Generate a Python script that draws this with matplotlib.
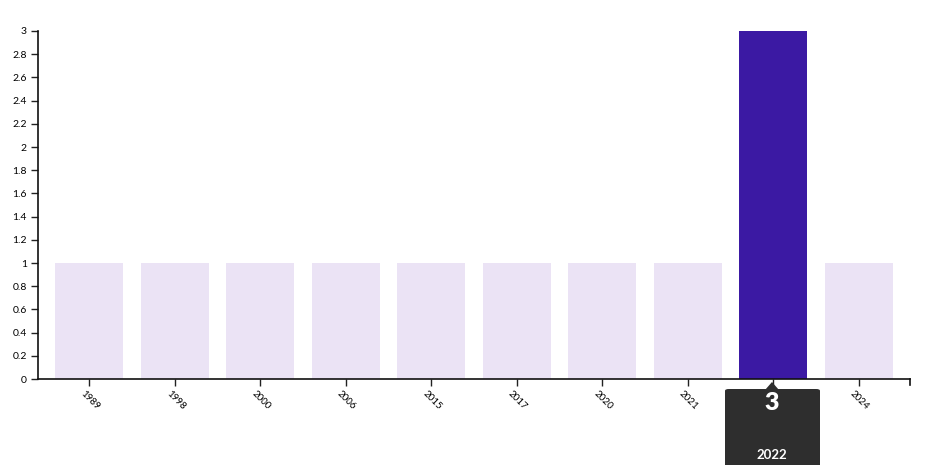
import matplotlib
matplotlib.use("Agg")
import matplotlib.pyplot as plt
import matplotlib.transforms as mtransforms
from matplotlib.patches import FancyBboxPatch, Polygon

plt.rcParams['font.family'] = ['Lato', 'DejaVu Sans']

years = ['1989', '1998', '2000', '2006', '2015', '2017', '2020', '2021', '2022', '2024']
counts = [1, 1, 1, 1, 1, 1, 1, 1, 3, 1]
highlight = '2022'

W, H = 935, 465
fig = plt.figure(figsize=(W / 100, H / 100), dpi=100)
ax = fig.add_axes([38 / W, 1 - 379 / H, (910 - 38) / W, (379 - 31) / H])

x = list(range(len(years)))
colors = ['#3b19a3' if y == highlight else '#ebe3f5' for y in years]
ax.bar(x, counts, width=0.8, color=colors)

ax.set_xlim(-0.6, len(years) - 0.4)
ax.set_ylim(0, 3)
ax.set_yticks([i / 5 for i in range(16)])
ax.set_yticklabels(['0' if i == 0 else f'{i / 5:g}' for i in range(16)], fontsize=7.5)
ax.set_xticks(x)
ax.set_xticklabels(years, rotation=-45, ha='left', va='top', fontsize=7,
                   rotation_mode='anchor')
ax.tick_params(axis='both', length=5, width=1, color='#222222', pad=3)
ax.tick_params(axis='x', pad=2)
shift = mtransforms.ScaledTranslation(-4 / 100, 0, fig.dpi_scale_trans)
for lbl in ax.get_xticklabels():
    lbl.set_transform(lbl.get_transform() + shift)
for s in ['top', 'right']:
    ax.spines[s].set_visible(False)
for s in ['left', 'bottom']:
    ax.spines[s].set_linewidth(1.2)
    ax.spines[s].set_color('#111111')

# end tick of the x domain
fig.add_artist(plt.Line2D([910 / W, 910 / W], [1 - 379 / H, 1 - 385 / H],
                          transform=fig.transFigure, color='#111111', lw=1.2))

# tooltip
def fx(px):
    return px / W

def fy(py):
    return 1 - py / H

box = FancyBboxPatch((fx(725), fy(470)), fx(820) - fx(725), fy(389) - fy(470),
                     boxstyle='round,pad=0,rounding_size=0.004',
                     transform=fig.transFigure, facecolor='#2e2e2e',
                     edgecolor='none', clip_on=False)
fig.add_artist(box)
tri = Polygon([(fx(765), fy(390)), (fx(779), fy(390)), (fx(772), fy(382))],
              closed=True, transform=fig.transFigure, facecolor='#2e2e2e',
              edgecolor='none')
fig.add_artist(tri)
hi = years.index(highlight)
fig.text(fx(772), fy(403), str(counts[hi]), color='white', fontsize=18,
         fontweight='heavy', ha='center', va='center')
fig.text(fx(772), fy(455), highlight, color='white', fontsize=9.5,
         fontweight='bold', ha='center', va='center')

fig.savefig('out.png', dpi=100)
